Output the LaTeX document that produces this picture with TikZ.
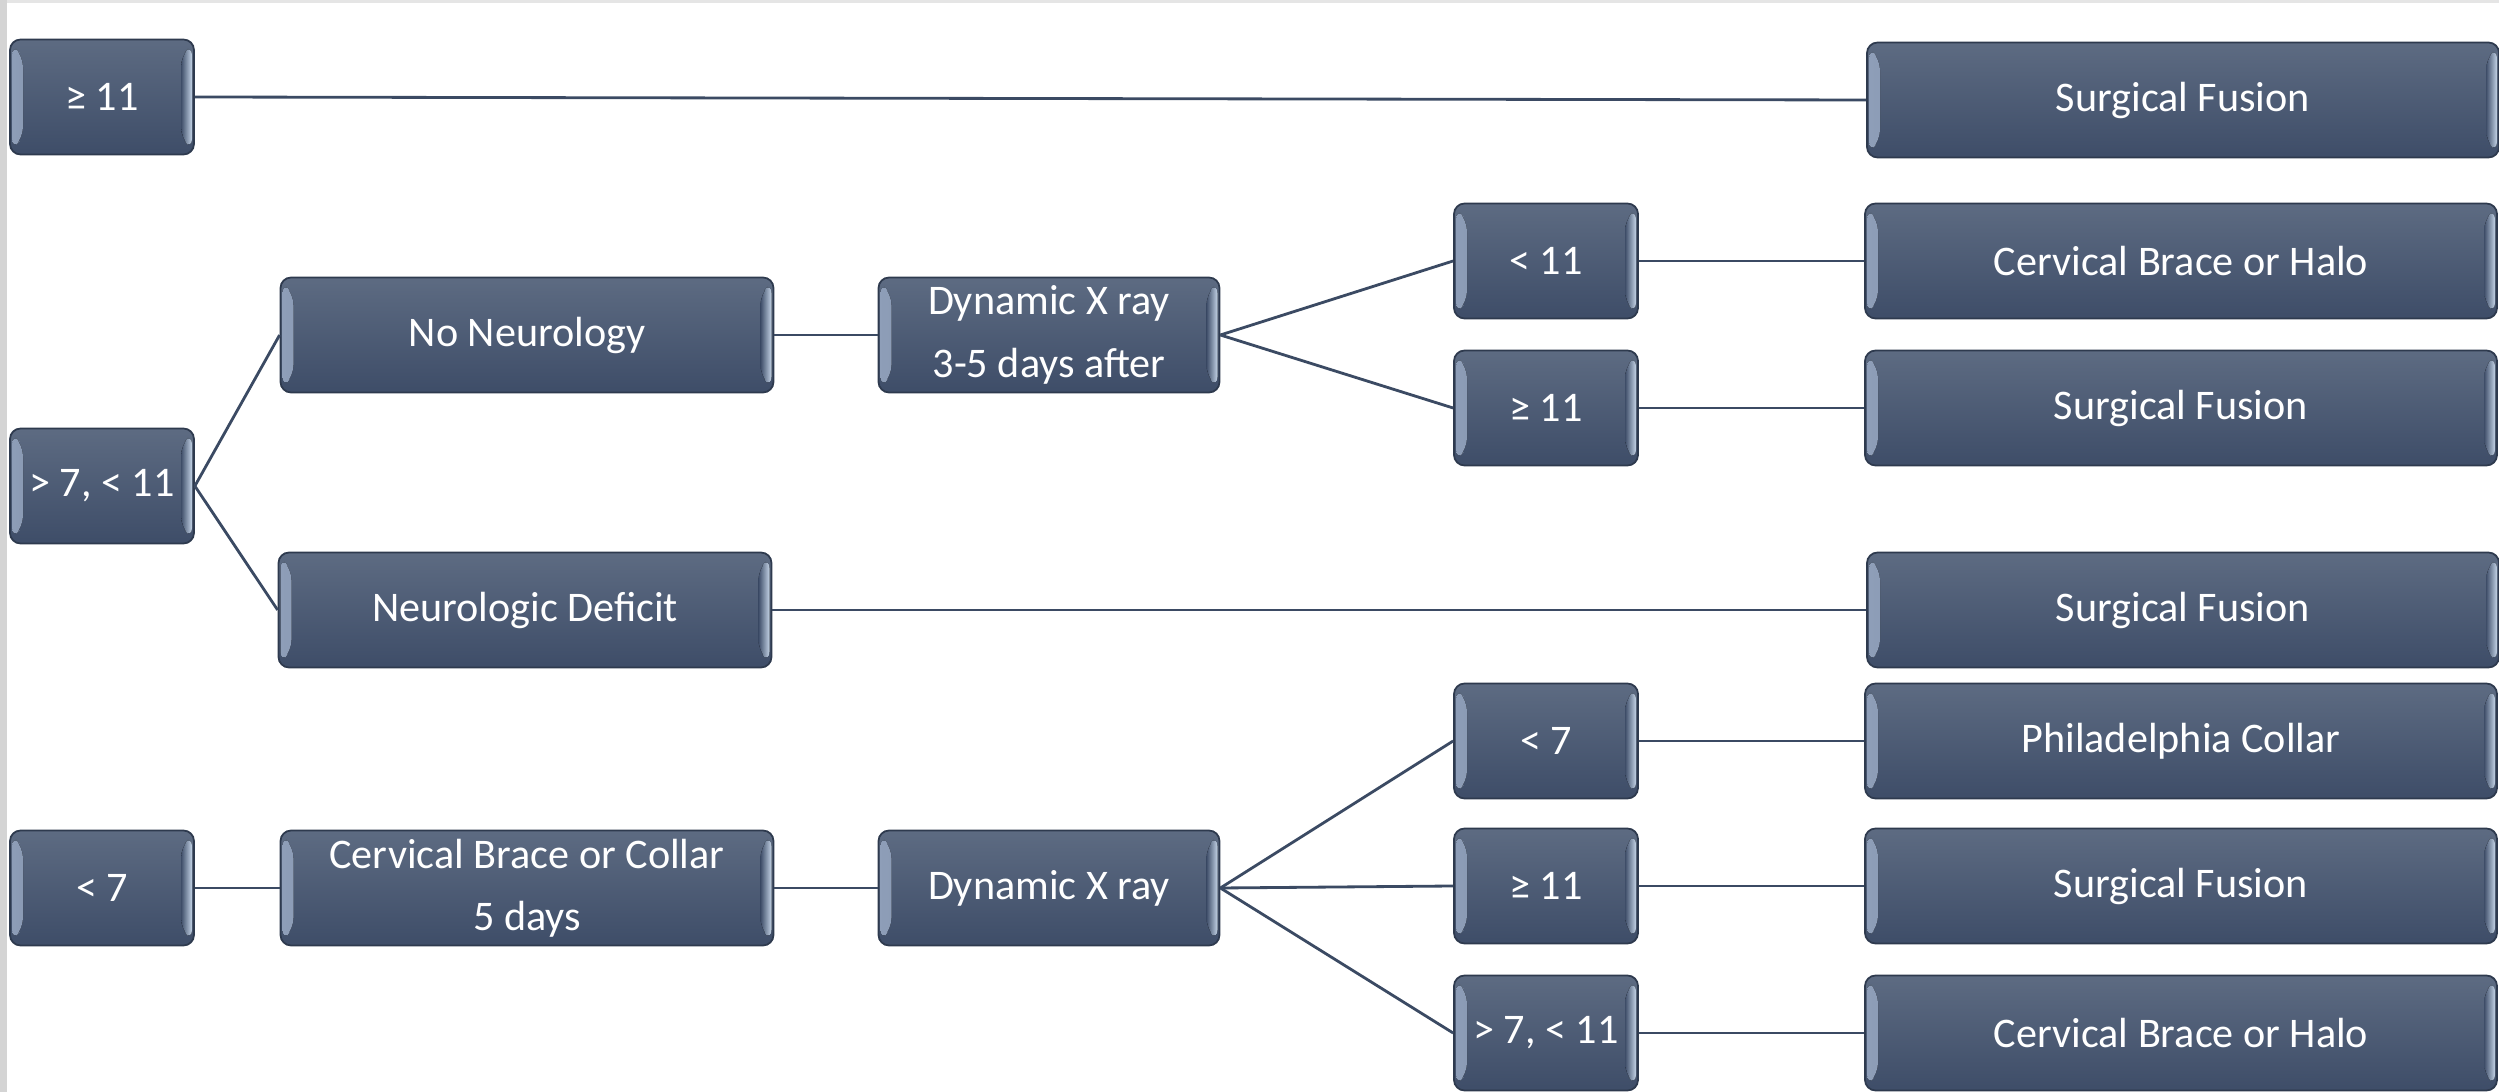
\documentclass[tikz,border=0pt]{standalone}
\usepackage{fontspec}
\setmainfont{Carlito}
\definecolor{boxtop}{HTML}{5D6B82}
\definecolor{boxbot}{HTML}{3E4D68}
\definecolor{boxedge}{HTML}{2E3A4E}
\definecolor{bevl}{HTML}{8E9EB8}
\definecolor{bevr}{HTML}{C3D3E6}
\definecolor{wire}{HTML}{3B4A63}
\tikzset{
  blk/.style={draw=boxedge, line width=0.5pt, rounded corners=3pt,
    top color=boxtop, bottom color=boxbot, text=white,
    minimum height=1.15cm, inner sep=0pt, align=center,
    font=\fontsize{12}{17.7}\selectfont,
    path picture={
      \fill[left color=bevl, right color=boxtop]
        ([shift={(0.02,-0.05)}]path picture bounding box.north west)
        -- ([shift={(0.13,-0.17)}]path picture bounding box.north west)
        -- ([shift={(0.13,0.17)}]path picture bounding box.south west)
        -- ([shift={(0.02,0.05)}]path picture bounding box.south west) -- cycle;
      \fill[left color=boxbot, right color=bevr]
        ([shift={(-0.02,-0.05)}]path picture bounding box.north east)
        -- ([shift={(-0.13,-0.17)}]path picture bounding box.north east)
        -- ([shift={(-0.13,0.17)}]path picture bounding box.south east)
        -- ([shift={(-0.02,0.05)}]path picture bounding box.south east) -- cycle;
    }},
  small/.style={blk, minimum width=1.84cm},
  mid/.style={blk, minimum width=4.93cm},
  xray/.style={blk, minimum width=3.41cm},
  result/.style={blk, minimum width=6.32cm},
  wire/.style={draw=wire, line width=0.8pt}
}
\begin{document}
\begin{tikzpicture}
    \useasboundingbox (0,0) rectangle (24.99,-10.92);
    \fill[white] (0,0) rectangle (24.99,-10.92);
    \fill[black!10] (0,0) rectangle (24.99,-0.03);
    \fill[black!17] (0,0) rectangle (0.07,-10.92);

    % first column
    \node[small] (top) at (1.02,-0.97) {≥ 11};
    \node[small] (midrange) at (1.02,-4.86) {> 7, < 11};
    \node[small] (low) at (1.02,-8.88) {< 7};

    % second column
    \node[mid] (noneuro) at (5.27,-3.35) {No Neurology};
    \node[mid] (deficit) at (5.25,-6.10) {Neurologic Deficit};
    \node[mid] (collar) at (5.27,-8.88) {Cervical Brace or Collar\\5 days};

    % dynamic x rays
    \node[xray] (xrayA) at (10.49,-3.35) {Dynamic X ray\\3-5 days after};
    \node[xray] (xrayB) at (10.49,-8.88) {Dynamic X ray};

    % readings
    \node[small] (rA) at (15.46,-2.61) {< 11};
    \node[small] (rB) at (15.46,-4.08) {≥ 11};
    \node[small] (rC) at (15.46,-7.41) {< 7};
    \node[small] (rD) at (15.46,-8.86) {≥ 11};
    \node[small] (rE) at (15.46,-10.33) {> 7, < 11};

    % treatments
    \node[result] (t0) at (21.83,-1.00) {Surgical Fusion};
    \node[result] (t1) at (21.81,-2.61) {Cervical Brace or Halo};
    \node[result] (t2) at (21.81,-4.08) {Surgical Fusion};
    \node[result] (t3) at (21.83,-6.10) {Surgical Fusion};
    \node[result] (t4) at (21.81,-7.41) {Philadelphia Collar};
    \node[result] (t5) at (21.81,-8.86) {Surgical Fusion};
    \node[result] (t6) at (21.81,-10.33) {Cervical Brace or Halo};

    \draw[wire] (top.east) -- (t0.west);
    \draw[wire] (midrange.east) -- (noneuro.west);
    \draw[wire] (midrange.east) -- (deficit.west);
    \draw[wire] (noneuro) -- (xrayA);
    \draw[wire] (xrayA.east) -- (rA.west);
    \draw[wire] (xrayA.east) -- (rB.west);
    \draw[wire] (rA) -- (t1);
    \draw[wire] (rB) -- (t2);
    \draw[wire] (deficit) -- (t3);
    \draw[wire] (low) -- (collar);
    \draw[wire] (collar) -- (xrayB);
    \draw[wire] (xrayB.east) -- (rC.west);
    \draw[wire] (xrayB.east) -- (rD.west);
    \draw[wire] (xrayB.east) -- (rE.west);
    \draw[wire] (rC) -- (t4);
    \draw[wire] (rD) -- (t5);
    \draw[wire] (rE) -- (t6);
\end{tikzpicture}
\end{document}
